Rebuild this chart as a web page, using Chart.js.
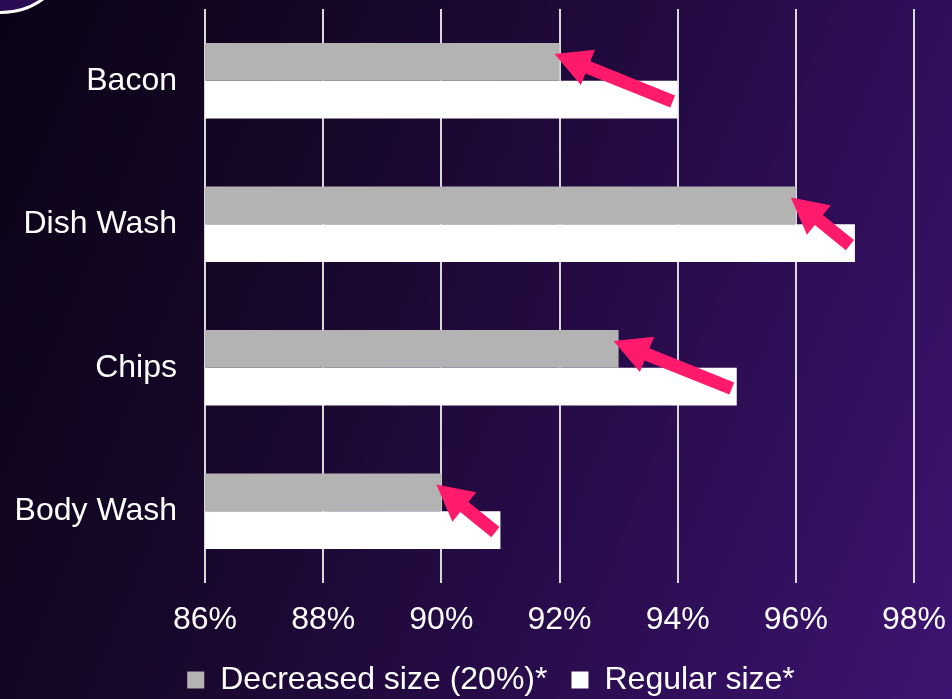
<!DOCTYPE html>
<html>
<head>
<meta charset="utf-8">
<script src="https://cdn.jsdelivr.net/npm/chart.js@4"></script>
<style>
  html, body { margin: 0; padding: 0; }
  body {
    width: 952px; height: 699px; overflow: hidden; position: relative;
    background: linear-gradient(112deg, #0a0315 0%, #170729 32%, #280c4b 64%, #3e1472 100%);
  }
  #ring {
    position: absolute; left: -72px; top: -132px; width: 140px; height: 140px;
    border: 3px solid #ffffff; border-radius: 50%; background: #2a0c55;
  }
  #wrap { position: absolute; left: 0; top: 0; width: 952px; height: 699px; }
</style>
</head>
<body>
<div id="ring"></div>
<div id="wrap"><canvas id="shrinkChart"></canvas></div>
<script>
const categories = ['Bacon', 'Dish Wash', 'Chips', 'Body Wash'];
const decreasedSize = [92, 96, 93, 90];
const regularSize = [94, 97, 95, 91];
const tickValues = [86, 88, 90, 92, 94, 96, 98];

const font = { family: 'Liberation Sans, Arial, sans-serif', size: 32 };

// pink arrow from the end of the regular bar back to the end of the decreased bar
const arrowPlugin = {
    id: 'arrows',
    afterDatasetsDraw(chart) {
        const ctx = chart.ctx;
        const small = chart.getDatasetMeta(0).data;
        const big = chart.getDatasetMeta(1).data;
        ctx.save();
        ctx.fillStyle = '#ff1a6c';
        small.forEach((bar, i) => {
            const tx = big[i].x - 5, ty = big[i].y + 2;
            const hx = bar.x - 5, hy = bar.y - 8;
            const ang = Math.atan2(hy - ty, hx - tx);
            const len = Math.hypot(hx - tx, hy - ty);
            const shaft = 6.5, head = 19, headLen = 36;
            ctx.translate(tx, ty);
            ctx.rotate(ang);
            ctx.beginPath();
            ctx.moveTo(0, -shaft);
            ctx.lineTo(len - headLen, -shaft);
            ctx.lineTo(len - headLen, -head);
            ctx.lineTo(len, 0);
            ctx.lineTo(len - headLen, head);
            ctx.lineTo(len - headLen, shaft);
            ctx.lineTo(0, shaft);
            ctx.closePath();
            ctx.fill();
            ctx.setTransform(1, 0, 0, 1, 0, 0);
        });
        ctx.restore();
    }
};

new Chart(document.getElementById('shrinkChart').getContext('2d'), {
    type: 'bar',
    data: {
        labels: categories,
        datasets: [{
            label: 'Decreased size (20%)*',
            data: decreasedSize,
            backgroundColor: '#b3b3b3',
            barPercentage: 1,
            categoryPercentage: 0.525
        }, {
            label: 'Regular size*',
            data: regularSize,
            backgroundColor: '#ffffff',
            barPercentage: 1,
            categoryPercentage: 0.525
        }]
    },
    options: {
        indexAxis: 'y',
        responsive: true,
        maintainAspectRatio: false,
        animation: false,
        // negative right padding pushes the legend's centre to the right
        layout: { padding: { top: 9, right: -30, left: 0, bottom: 0 } },
        plugins: {
            tooltip: { enabled: false },
            legend: {
                position: 'bottom',
                maxHeight: 59,
                labels: {
                    color: '#ffffff',
                    font: font,
                    boxWidth: 17,
                    boxHeight: 17,
                    padding: 24
                }
            }
        },
        scales: {
            x: {
                min: 86,
                max: 98,
                afterBuildTicks: s => { s.ticks = tickValues.map(v => ({ value: v })); },
                afterFit: s => { s.height = 57; s.paddingLeft = 0; s.paddingRight = 38; },
                ticks: {
                    color: '#ffffff',
                    font: font,
                    padding: 18,
                    callback: v => v + '%'
                },
                grid: { color: '#d9d9d9', lineWidth: 2, drawTicks: false },
                border: { display: false }
            },
            y: {
                afterFit: s => { s.width = 205; s.paddingTop = 0; s.paddingBottom = 0; },
                ticks: { color: '#ffffff', font: font, padding: 20 },
                grid: { display: false },
                border: { display: false }
            }
        }
    },
    plugins: [arrowPlugin]
});
</script>
</body>
</html>
